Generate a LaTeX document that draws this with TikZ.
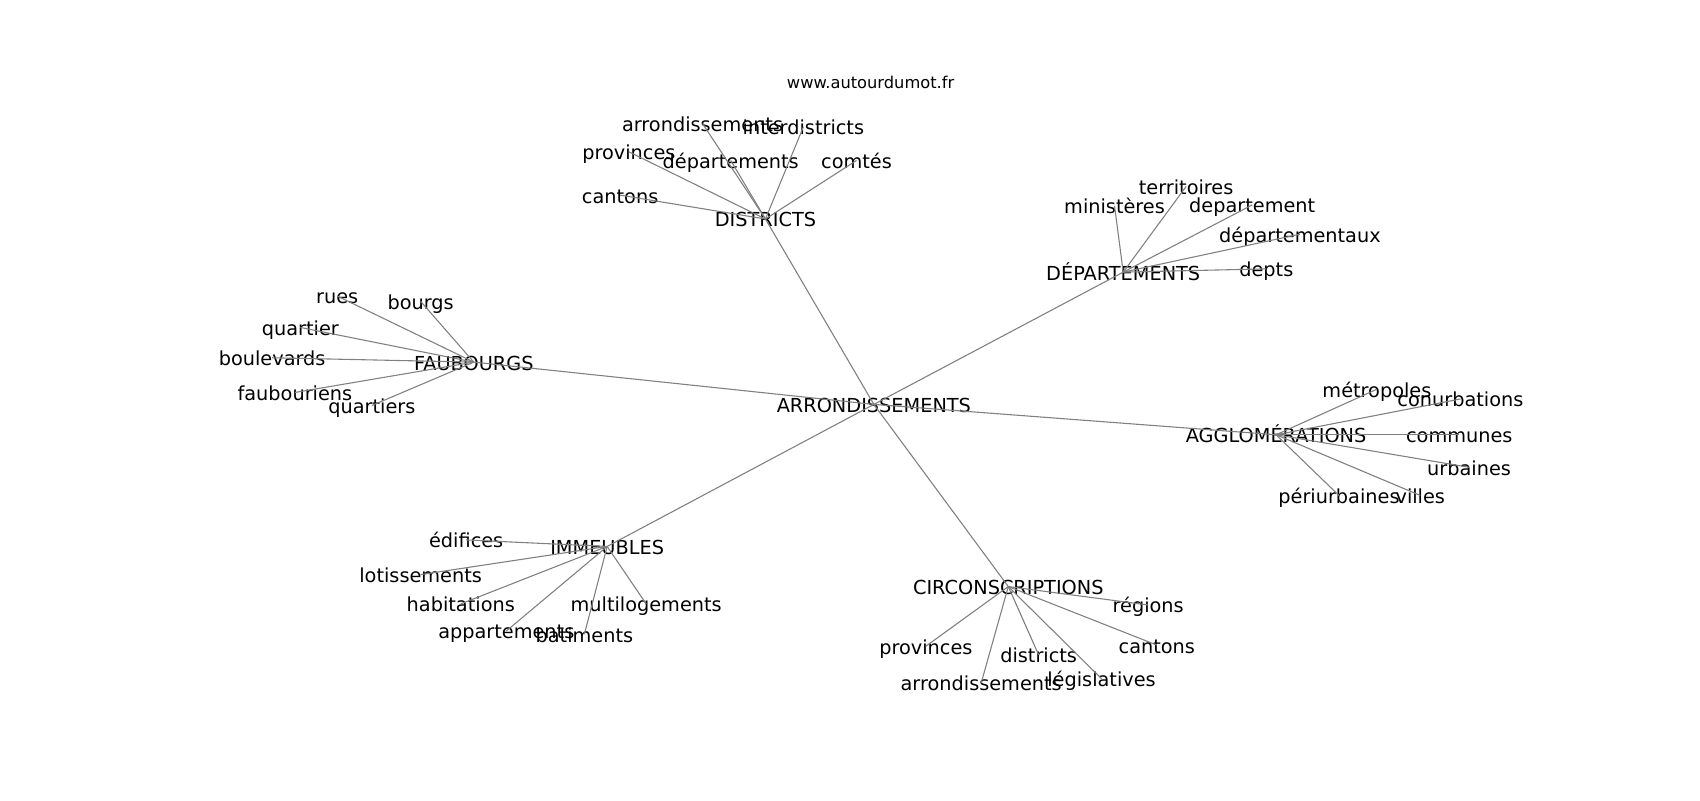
\documentclass[tikz,border=0pt]{standalone}
\usepackage{fontspec}
\setmainfont{DejaVu Sans}
\begin{document}
\begin{tikzpicture}[x=0.5pt, y=-0.5pt,
    word/.style={font=\fontsize{8.9}{10}\selectfont, inner sep=0pt, text height=0.73em, text depth=0pt},
    edge/.style={draw=black!50, line width=0.5pt}]
    \useasboundingbox (0,0) rectangle (1568,738);
    \node[font=\fontsize{7.5}{9}\selectfont, inner sep=0pt] (site) at (803,76) {www.autourdumot.fr};

    % hub and its groups
    \node[word] (arr) at (806,373) {ARRONDISSEMENTS};
    \node[word] (dis) at (706,202) {DISTRICTS};
    \node[word] (dep) at (1036,251) {DÉPARTEMENTS};
    \node[word] (fau) at (437,334) {FAUBOURGS};
    \node[word] (agg) at (1177,401) {AGGLOMÉRATIONS};
    \node[word] (imm) at (560,504) {IMMEUBLES};
    \node[word] (cir) at (930,541) {CIRCONSCRIPTIONS};

    % districts
    \node[word] (dis-arr) at (648,114) {arrondissements};
    \node[word] (dis-int) at (741,117) {interdistricts};
    \node[word] (dis-pro) at (580,140) {provinces};
    \node[word] (dis-dep) at (674,148) {départements};
    \node[word] (dis-com) at (790,148) {comtés};
    \node[word] (dis-can) at (572,180) {cantons};

    % departements
    \node[word] (dep-min) at (1028,190) {ministères};
    \node[word] (dep-ter) at (1094,172) {territoires};
    \node[word] (dep-dpt) at (1155,189) {departement};
    \node[word] (dep-aux) at (1199,216) {départementaux};
    \node[word] (dep-dts) at (1168,248) {depts};

    % faubourgs
    \node[word] (fau-rue) at (311,273) {rues};
    \node[word] (fau-bou) at (388,278) {bourgs};
    \node[word] (fau-qua) at (277,302) {quartier};
    \node[word] (fau-bld) at (251,330) {boulevards};
    \node[word] (fau-fbr) at (272,362) {faubouriens};
    \node[word] (fau-qus) at (343,374) {quartiers};

    % agglomerations
    \node[word] (agg-met) at (1270,359) {métropoles};
    \node[word] (agg-con) at (1347,368) {conurbations};
    \node[word] (agg-com) at (1346,401) {communes};
    \node[word] (agg-urb) at (1355,431) {urbaines};
    \node[word] (agg-per) at (1235,457) {périurbaines};
    \node[word] (agg-vil) at (1310,457) {villes};

    % immeubles
    \node[word] (imm-edi) at (430,498) {édifices};
    \node[word] (imm-lot) at (388,530) {lotissements};
    \node[word] (imm-hab) at (425,557) {habitations};
    \node[word] (imm-app) at (467,582) {appartements};
    \node[word] (imm-bat) at (539,585) {batiments};
    \node[word] (imm-mul) at (596,557) {multilogements};

    % circonscriptions
    \node[word] (cir-reg) at (1059,558) {régions};
    \node[word] (cir-pro) at (854,596) {provinces};
    \node[word] (cir-can) at (1067,595) {cantons};
    \node[word] (cir-dis) at (958,604) {districts};
    \node[word] (cir-arr) at (905,630) {arrondissements};
    \node[word] (cir-leg) at (1016,626) {législatives};

    \foreach \g in {dis,dep,fau,agg,imm,cir}
        \draw[edge] (arr.center) -- (\g.center);
    \foreach \w in {arr,int,pro,dep,com,can}
        \draw[edge] (dis.center) -- (dis-\w.center);
    \foreach \w in {min,ter,dpt,aux,dts}
        \draw[edge] (dep.center) -- (dep-\w.center);
    \foreach \w in {rue,bou,qua,bld,fbr,qus}
        \draw[edge] (fau.center) -- (fau-\w.center);
    \foreach \w in {met,con,com,urb,per,vil}
        \draw[edge] (agg.center) -- (agg-\w.center);
    \foreach \w in {edi,lot,hab,app,bat,mul}
        \draw[edge] (imm.center) -- (imm-\w.center);
    \foreach \w in {reg,pro,can,dis,arr,leg}
        \draw[edge] (cir.center) -- (cir-\w.center);

\end{tikzpicture}
\end{document}
